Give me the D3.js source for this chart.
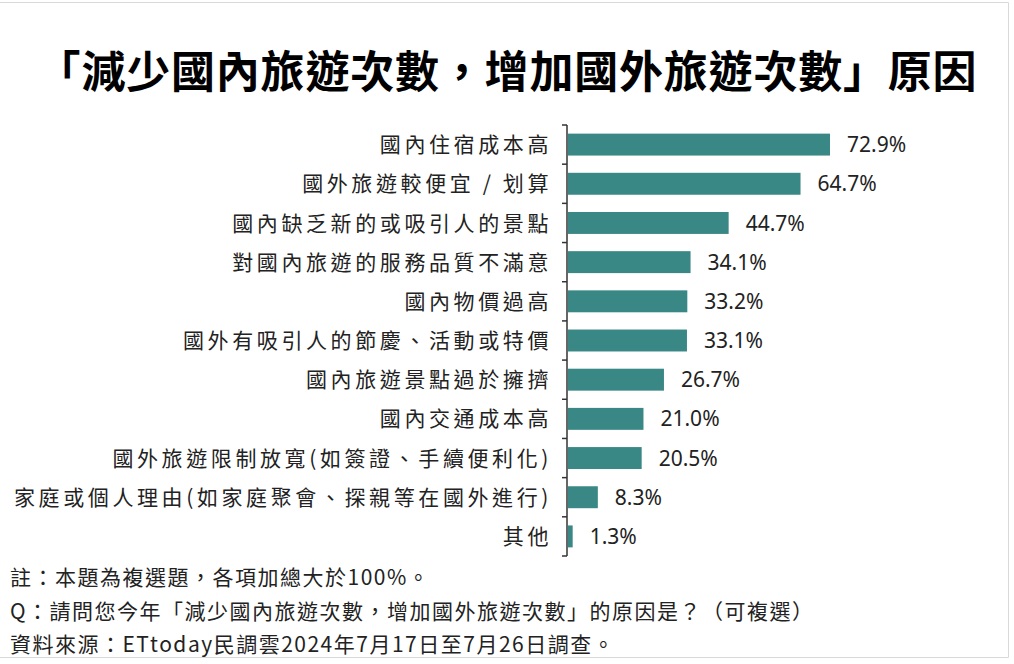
<!DOCTYPE html>
<html>
<head>
<meta charset="utf-8">
<script src="https://cdn.jsdelivr.net/npm/d3@7"></script>
<style>
  body { margin: 0; background: #fff; }
  svg { display: block; }
</style>
</head>
<body>
<div id="chart"></div>
<script>
// data
const reasons = [
  "國內住宿成本高",
  "國外旅遊較便宜 / 划算",
  "國內缺乏新的或吸引人的景點",
  "對國內旅遊的服務品質不滿意",
  "國內物價過高",
  "國外有吸引人的節慶、活動或特價",
  "國內旅遊景點過於擁擠",
  "國內交通成本高",
  "國外旅遊限制放寬(如簽證、手續便利化)",
  "家庭或個人理由(如家庭聚會、探親等在國外進行)",
  "其他"
];
const shares = [72.9, 64.7, 44.7, 34.1, 33.2, 33.1, 26.7, 21.0, 20.5, 8.3, 1.3];
const titleText = "「減少國內旅遊次數，增加國外旅遊次數」原因";
const notes = [
  "註：本題為複選題，各項加總大於100%。",
  "Q：請問您今年「減少國內旅遊次數，增加國外旅遊次數」的原因是？（可複選）",
  "資料來源：ETtoday民調雲2024年7月17日至7月26日調查。"
];

let width = 1014, height = 664;
let margin = {top: 125, left: 568, right: 106, bottom: 108};
const cjk = "'Noto Sans CJK TC', 'Noto Sans CJK SC', sans-serif";

let svg = d3.select("#chart").append("svg")
  .attr("width", width)
  .attr("height", height);

// thin frame on top/right/bottom
svg.append("path")
  .attr("d", "M0,2.5H1008.5V657.5H0")
  .attr("fill", "none")
  .attr("stroke", "#d9d9d9")
  .attr("stroke-width", 1);

svg.append("text")
  .attr("x", 507)
  .attr("y", 88)
  .attr("text-anchor", "middle")
  .style("font-family", cjk)
  .style("font-weight", 700)
  .style("font-size", "44px")
  .style("letter-spacing", "0.8px")
  .attr("fill", "#000")
  .text(titleText);

let g = svg.append("g")
  .attr("transform", "translate(" + margin.left + "," + margin.top + ")");

// 72.9% -> ~262px
let x = d3.scaleLinear().domain([0, 100]).range([0, 359.4]);
let y = d3.scaleBand().domain(reasons).range([0, 431]).paddingInner(0.44).paddingOuter(0.22);

g.selectAll(".bar")
  .data(shares)
  .enter().append("rect")
  .attr("class", "bar")
  .attr("x", 0)
  .attr("y", (d, i) => y(reasons[i]))
  .attr("width", d => x(d))
  .attr("height", y.bandwidth())
  .attr("fill", "#3a8886");

g.selectAll(".val")
  .data(shares)
  .enter().append("text")
  .attr("class", "val")
  .attr("x", d => x(d) + 17)
  .attr("y", (d, i) => y(reasons[i]) + y.bandwidth() / 2)
  .attr("dy", "0.36em")
  .style("font-family", "'Noto Sans', 'Open Sans', sans-serif")
  .style("font-size", "21px")
  .attr("fill", "#222")
  .text(d => d.toFixed(1) + "%");

// category axis: line with ticks between bands
let step = y.step();
let axis = g.append("g").attr("class", "y-axis");
axis.append("line")
  .attr("x1", -1).attr("x2", -1)
  .attr("y1", 0).attr("y2", 431)
  .attr("stroke", "#333").attr("stroke-width", 1.5);
axis.selectAll(".tick")
  .data(d3.range(reasons.length + 1))
  .enter().append("line")
  .attr("class", "tick")
  .attr("x1", -6).attr("x2", -1)
  .attr("y1", i => i * step).attr("y2", i => i * step)
  .attr("stroke", "#333").attr("stroke-width", 1.5);

g.selectAll(".cat")
  .data(reasons)
  .enter().append("text")
  .attr("class", "cat")
  .attr("x", -16)
  .attr("y", d => y(d) + y.bandwidth() / 2)
  .attr("dy", "0.36em")
  .attr("text-anchor", "end")
  .style("font-family", cjk)
  .style("font-size", "21px")
  .style("letter-spacing", "3.6px")
  .attr("fill", "#222")
  .text(d => d);

svg.selectAll(".note")
  .data(notes)
  .enter().append("text")
  .attr("class", "note")
  .attr("x", 10)
  .attr("y", (d, i) => 585 + i * 33.5)
  .style("font-family", cjk)
  .style("font-size", "21px")
  .style("letter-spacing", "1.5px")
  .attr("fill", "#222")
  .text(d => d);
</script>
</body>
</html>
